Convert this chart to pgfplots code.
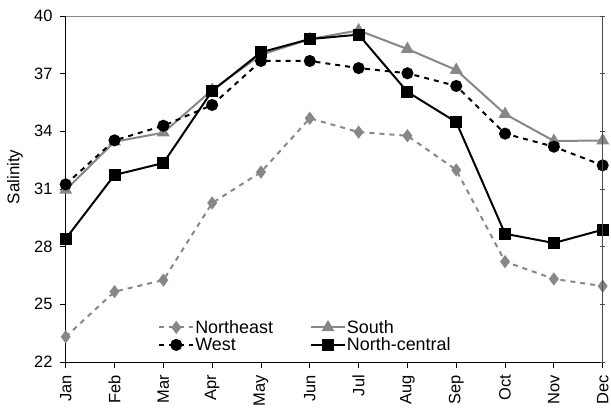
\documentclass[border=0pt]{standalone}
\usepackage{fontspec}
\setmainfont{Liberation Sans}
\usepackage{pgfplots}
\pgfplotsset{compat=1.18}
\definecolor{sgray}{HTML}{878787}
\definecolor{agray}{HTML}{4A4A4A}
\begin{document}
\begin{tikzpicture}
\pgfplotsset{
  common/.style={
    scale only axis, width=537bp, height=346bp,
    xmin=0, xmax=11, ymin=22, ymax=40,
    ytick={22,25,...,40},
    /pgf/number format/assume math mode=true,
    tick label style={font=\fontsize{16.5}{19}\selectfont},
  }
}
\begin{axis}[common,
  axis x line*=bottom, axis y line*=left,
  axis line style={black, line width=0.9pt},
  tick style={black, line width=0.9pt, major tick length=6bp},
  tick align=outside,
  xtick={0,...,11},
  xticklabels={Jan,Feb,Mar,Apr,May,Jun,Jul,Aug,Sep,Oct,Nov,Dec},
  xticklabel style={rotate=90, anchor=east, inner sep=7bp},
  yticklabel style={inner sep=7bp},
  ylabel={Salinity},
  ylabel style={font=\fontsize{17}{19}\selectfont,
    at={([xshift=-42.7bp]rel axis cs:0,0.535)}, anchor=south, inner sep=0pt},
  legend columns=2,
  legend style={at={(0.172,0.025)}, anchor=south west, draw=none, fill=none,
    font=\fontsize{18}{19}\selectfont, inner sep=0pt, row sep=1bp,
    nodes={inner sep=1bp},
    /tikz/every even column/.append style={column sep=36bp}},
  legend cell align=left,
  legend image code/.code={
    \draw[#1] (0bp,0bp) -- (34bp,0bp);
    \draw[#1, solid] plot coordinates {(17bp,0bp)};
  },
]
\draw[sgray, line width=0.9pt] (rel axis cs:0,1) -- (rel axis cs:1,1);
\coordinate (bl) at (rel axis cs:0,0);
\coordinate (tr) at (rel axis cs:1,1);
\addplot[sgray, dashed, dash pattern=on 5bp off 5bp, line width=2pt, mark=diamond*, mark size=5bp, mark options={solid}]
  coordinates {(0,23.31) (1,25.66) (2,26.26) (3,30.27) (4,31.88) (5,34.68) (6,33.96) (7,33.77) (8,31.99) (9,27.22) (10,26.32) (11,25.95)};
\addlegendentry{Northeast}
\addplot[sgray, line width=2pt, mark=triangle*, mark size=5.5bp, mark options={solid}]
  coordinates {(0,30.95) (1,33.46) (2,33.93) (3,36.15) (4,37.98) (5,38.8) (6,39.25) (7,38.28) (8,37.19) (9,34.9) (10,33.5) (11,33.52)};
\addlegendentry{South}
\addplot[black, dashed, dash pattern=on 5bp off 5bp, line width=2pt, mark=*, mark size=5bp, mark options={solid}]
  coordinates {(0,31.24) (1,33.53) (2,34.29) (3,35.37) (4,37.66) (5,37.66) (6,37.29) (7,37.02) (8,36.36) (9,33.88) (10,33.2) (11,32.23)};
\addlegendentry{West}
\addplot[black, line width=2pt, mark=square*, mark size=5bp, mark options={solid}]
  coordinates {(0,28.41) (1,31.73) (2,32.35) (3,36.1) (4,38.11) (5,38.8) (6,39.03) (7,36.05) (8,34.48) (9,28.67) (10,28.19) (11,28.88)};
\addlegendentry{North-central}
\end{axis}
\begin{axis}[common,
  axis x line=none, axis y line*=right,
  axis line style={agray, line width=1.2pt},
  tick style={agray, line width=0.9pt, major tick length=5bp},
  tick align=center,
  yticklabels={},
]
\end{axis}
\pgfresetboundingbox
\path ([xshift=-65.7bp,yshift=-49bp]bl) rectangle ([xshift=8.3bp,yshift=16bp]tr);
\end{tikzpicture}
\end{document}
